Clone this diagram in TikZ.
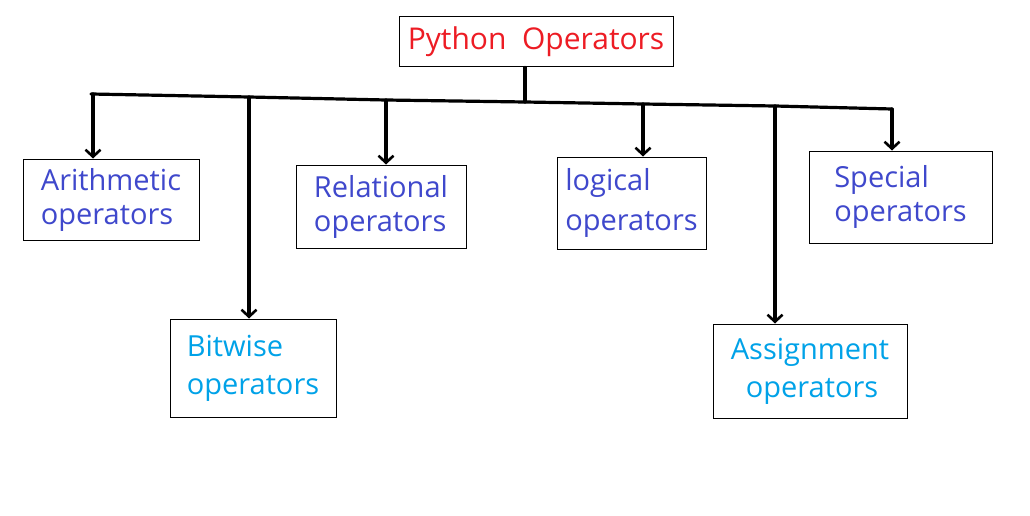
\documentclass[tikz,border=0pt]{standalone}
\usepackage{fontspec}
\setmainfont{Open Sans}
\usetikzlibrary{arrows.meta}
\definecolor{hred}{HTML}{ED1C24}
\definecolor{hblue}{HTML}{3F48CC}
\definecolor{hcyan}{HTML}{00A2E8}
\tikzset{
  box/.style={draw=black, line width=1pt, inner sep=0pt, align=left},
  lbl/.style={font=\fontsize{29}{34}\selectfont},
  wire/.style={draw=black, line width=3.2pt, line cap=round, line join=round},
  arr/.style={wire, -{Straight Barb[length=7pt, width=15pt, line width=2.6pt]}},
}
\begin{document}
\begin{tikzpicture}[x=1pt,y=-1pt]
\useasboundingbox (0,0) rectangle (1030,516);
\fill[white] (0,0) rectangle (1030,516);
% boxes
\node[box, minimum width=274pt, minimum height=50pt, text=hred, font=\fontsize{30}{34}\selectfont] (py) at (536,42) {Python\ \ Operators};
\node[box, lbl, minimum width=176pt, minimum height=81pt, text=hblue] (ar) at (111,199.5) {Arithmetic\\operators};
\node[box, lbl, minimum width=166pt, minimum height=98pt, text=hcyan, font=\fontsize{29}{38}\selectfont] (bw) at (253,368) {Bitwise\\operators};
\node[box, lbl, minimum width=170pt, minimum height=83pt, text=hblue] (re) at (381,206.5) {Relational\\operators};
\node[box, lbl, minimum width=149pt, minimum height=92pt, text=hblue, font=\fontsize{29}{40}\selectfont] (lo) at (631.5,203) {logical\\operators};
\node[box, lbl, minimum width=194pt, minimum height=94pt, text=hcyan, font=\fontsize{29}{38}\selectfont] (as) at (810,371) {Assignment\\ \ \ operators};
\node[box, lbl, minimum width=183pt, minimum height=92pt, text=hblue] (sp) at (900.5,197) {Special\\ operators};
% bus coordinates
\coordinate (b0) at (91,94);
\coordinate (bar) at (93,94);
\coordinate (bbw) at (249,97);
\coordinate (bre) at (386,100);
\coordinate (bpy) at (525,102);
\coordinate (blo) at (643,104);
\coordinate (bas) at (775,106);
\coordinate (b1) at (892,109);
% wires
\draw[wire] (b0) -- (bbw) -- (bre) -- (bpy) -- (blo) -- (bas) -- (b1);
\draw[wire] (py.south -| bpy) -- (bpy);
\draw[arr] (bar) -- (bar |- ar.north);
\draw[arr] (bbw) -- (bbw |- bw.north);
\draw[arr] (bre) -- (bre |- re.north);
\draw[arr] (blo) -- (blo |- lo.north);
\draw[arr] (bas) -- (bas |- as.north);
\draw[arr] (b1) -- (b1 |- sp.north);
\end{tikzpicture}
\end{document}
